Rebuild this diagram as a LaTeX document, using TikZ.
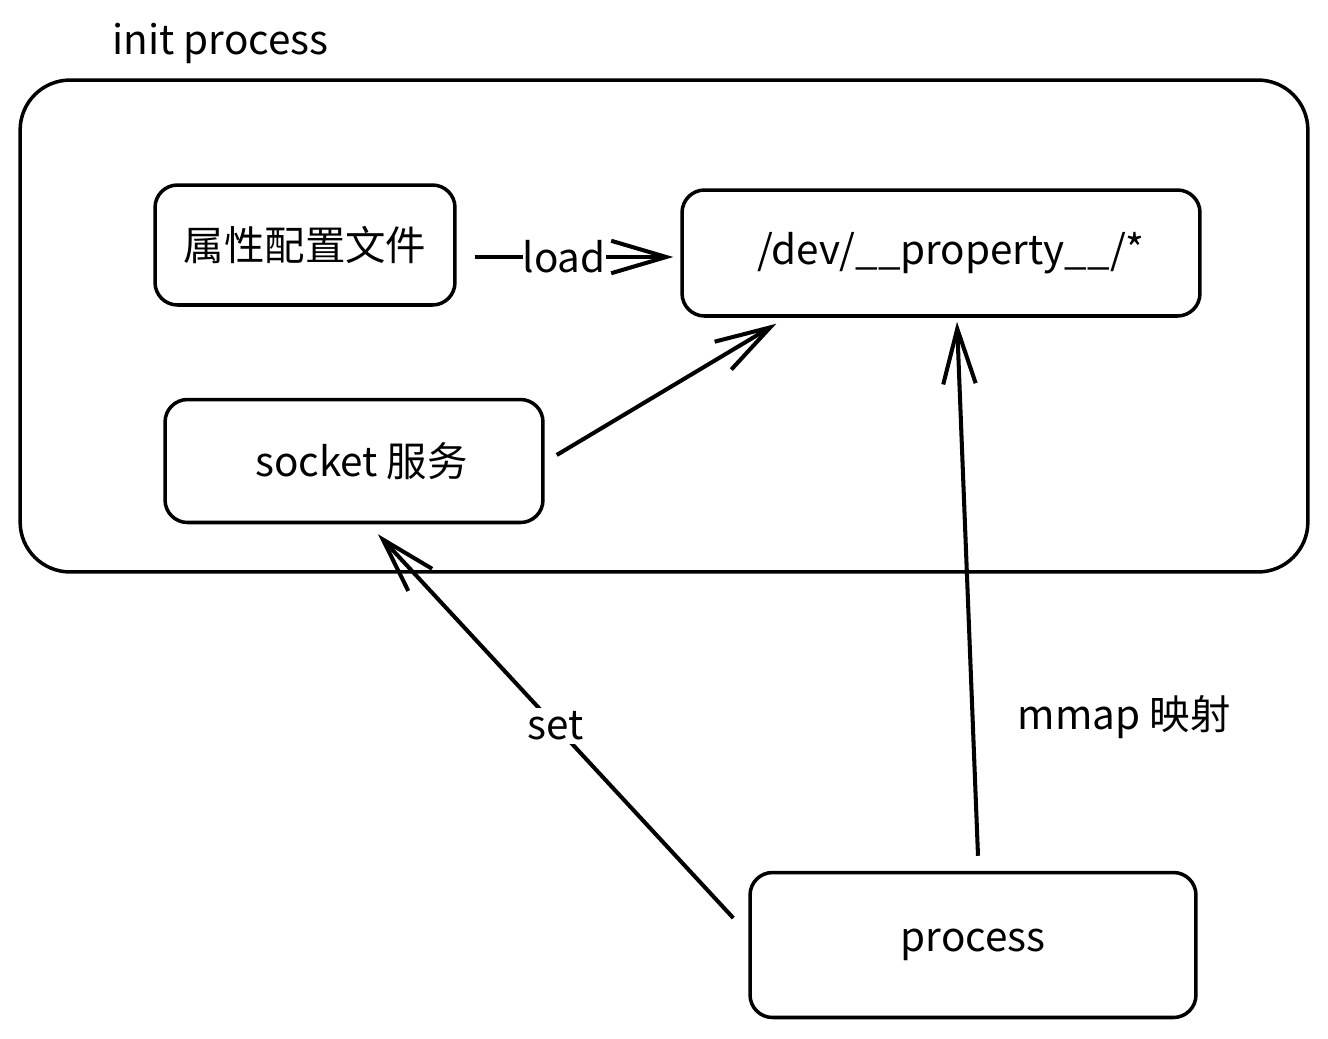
\documentclass[tikz,border=0pt]{standalone}
\usepackage{fontspec}
\setmainfont{Noto Sans CJK SC}
\usetikzlibrary{arrows.meta, positioning}

\begin{document}
\begin{tikzpicture}[
    x=0.02cm, y=-0.02cm,
    box/.style={draw, line width=2pt, rounded corners=0.45cm, align=center, font=\fontsize{23}{27}\selectfont},
    frame/.style={draw, line width=2pt, rounded corners=1cm},
    ar/.style={-{Straight Barb[length=1.1cm, width=0.65cm, line width=2.3pt]}, line width=2.3pt},
    lbl/.style={font=\fontsize{23}{27}\selectfont},
    font=\fontsize{23}{27}\selectfont
]
\useasboundingbox (0,0) rectangle (1328,1038);
\node[frame, minimum width=25.76cm, minimum height=9.84cm] (init) at (664,326) {};
\node[lbl, anchor=west] (initlbl) at ([shift={(88,-35)}]init.north west) {init process};
\node[box, minimum width=6cm, minimum height=2.4cm] (attr) at (305,245) {属性配置文件};
\node[box, minimum width=10.36cm, minimum height=2.52cm] (dev) at (941,253) {\hspace{0.4cm}/dev/\_\_property\_\_/*};
\node[box, minimum width=7.56cm, minimum height=2.46cm] (sock) at (354,461) {\hspace{0.3cm}socket 服务};
\node[box, minimum width=8.92cm, minimum height=2.9cm] (proc) at (973,945) {process};
\draw[ar] ([shift={(18,12)}]attr.east) -- node[pos=0.45, fill=white, inner sep=0pt]{load} ([shift={(-7,4)}]dev.west);
\draw[ar] ([shift={(12,-6)}]sock.east) -- ([shift={(96,6)}]dev.south west);
\draw[ar] ([shift={(5,-15)}]proc.north) -- node[pos=0.26, right=0.75cm]{mmap 映射} ([shift={(16,4)}]dev.south);
\draw[ar] ([shift={(-15,-27)}]proc.west) -- node[fill=white, inner sep=2pt]{set} ([shift={(24,10)}]sock.south);
\end{tikzpicture}
\end{document}
